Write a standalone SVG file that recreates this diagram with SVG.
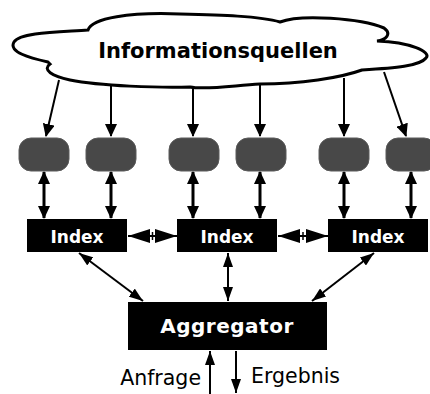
<svg xmlns="http://www.w3.org/2000/svg" width="430" height="394" viewBox="0 0 430 394">
<style>
.conn{stroke:#000;fill:none}
.gray{fill:#484848;stroke:#5a5a5a;stroke-width:1}
.box{fill:#000}
.wt{fill:#fff;font-family:"DejaVu Sans",sans-serif;font-weight:bold;text-anchor:middle}
.bt{fill:#000;font-family:"DejaVu Sans",sans-serif}
</style>
<defs>
<marker id="ah" markerUnits="userSpaceOnUse" markerWidth="13" markerHeight="12" refX="12" refY="6" orient="auto-start-reverse"><path d="M0,0 L13,6 L0,12 z" fill="#000"/></marker>
<marker id="am" markerUnits="userSpaceOnUse" markerWidth="14" markerHeight="10" refX="14" refY="5" orient="auto-start-reverse"><path d="M0,0 L14,5 L0,10 z" fill="#000"/></marker>
<marker id="ab" markerUnits="userSpaceOnUse" markerWidth="22" markerHeight="14" refX="22" refY="7" orient="auto-start-reverse"><path d="M0,0 L22,7 L0,14 z" fill="#000"/></marker>
</defs>
<g id="cloud">
<path d="M48,62 C30,58 8,52 14,42 C20,32 60,32 88,30 C92,18 130,12 180,14 C220,15 260,16 280,22 C300,14 360,18 384,28 C392,34 386,40 377,41 C410,42 432,52 426,58 C420,66 395,68 362,70 C340,78 300,84 260,84 C230,86 205,90 190,87 C160,88 100,86 70,80 C52,76 42,70 50,64 Z" fill="#fff" stroke="#000" stroke-width="3"/>
<text class="bt" x="218" y="58" font-size="21" font-weight="bold" text-anchor="middle">Informationsquellen</text>
</g>
<g id="sources">
<rect class="gray" x="19" y="138" width="50" height="33" rx="12"/>
<rect class="gray" x="86" y="138" width="50" height="33" rx="12"/>
<rect class="gray" x="169" y="138" width="50" height="33" rx="12"/>
<rect class="gray" x="236" y="138" width="50" height="33" rx="12"/>
<rect class="gray" x="319" y="138" width="50" height="33" rx="12"/>
<rect class="gray" x="386" y="138" width="50" height="33" rx="12"/>
</g>
<g id="index1"><rect class="box" x="27" y="219" width="100" height="33"/><text class="wt" x="77" y="242.5" font-size="17">Index</text></g>
<g id="index2"><rect class="box" x="177" y="219" width="100" height="33"/><text class="wt" x="227" y="242.5" font-size="17">Index</text></g>
<g id="index3"><rect class="box" x="328" y="219" width="100" height="33"/><text class="wt" x="378" y="242.5" font-size="17">Index</text></g>
<g id="aggregator"><rect class="box" x="128" y="302" width="199" height="48"/><text class="wt" x="227" y="333" font-size="20" letter-spacing="0.5">Aggregator</text></g>
<g id="connectors">
<line class="conn" stroke-width="2" x1="59" y1="80" x2="46" y2="136" marker-end="url(#ah)"/>
<line class="conn" stroke-width="2" x1="111" y1="86" x2="111" y2="136" marker-end="url(#ah)"/>
<line class="conn" stroke-width="2" x1="193" y1="88" x2="193" y2="136" marker-end="url(#ah)"/>
<line class="conn" stroke-width="2" x1="260" y1="84" x2="260" y2="136" marker-end="url(#ah)"/>
<line class="conn" stroke-width="2" x1="344" y1="78" x2="344" y2="136" marker-end="url(#ah)"/>
<line class="conn" stroke-width="2" x1="384" y1="72" x2="406" y2="136" marker-end="url(#ah)"/>
<line class="conn" stroke-width="3" x1="44" y1="172" x2="44" y2="218" marker-start="url(#ah)" marker-end="url(#ah)"/>
<line class="conn" stroke-width="3" x1="111" y1="172" x2="111" y2="218" marker-start="url(#ah)" marker-end="url(#ah)"/>
<line class="conn" stroke-width="3" x1="193" y1="172" x2="193" y2="218" marker-start="url(#ah)" marker-end="url(#ah)"/>
<line class="conn" stroke-width="3" x1="260" y1="172" x2="260" y2="218" marker-start="url(#ah)" marker-end="url(#ah)"/>
<line class="conn" stroke-width="3" x1="344" y1="172" x2="344" y2="218" marker-start="url(#ah)" marker-end="url(#ah)"/>
<line class="conn" stroke-width="3" x1="411" y1="172" x2="411" y2="218" marker-start="url(#ah)" marker-end="url(#ah)"/>
<line class="conn" stroke-width="2" x1="128" y1="236" x2="177" y2="236" marker-start="url(#ab)" marker-end="url(#ab)"/>
<line class="conn" stroke-width="1.5" x1="152.5" y1="232" x2="152.5" y2="240"/>
<line class="conn" stroke-width="2" x1="278" y1="236" x2="328" y2="236" marker-start="url(#ab)" marker-end="url(#ab)"/>
<line class="conn" stroke-width="1.5" x1="303" y1="232" x2="303" y2="240"/>
<line class="conn" stroke-width="2" x1="79" y1="253" x2="143" y2="301" marker-start="url(#am)" marker-end="url(#am)"/>
<line class="conn" stroke-width="2" x1="228" y1="253" x2="228" y2="301" marker-start="url(#am)" marker-end="url(#am)"/>
<line class="conn" stroke-width="2" x1="374" y1="253" x2="312" y2="301" marker-start="url(#am)" marker-end="url(#am)"/>
<line class="conn" stroke-width="2" x1="210" y1="394" x2="210" y2="351" marker-end="url(#am)"/>
<line class="conn" stroke-width="2" x1="236" y1="351" x2="236" y2="393" marker-end="url(#am)"/>
</g>
<text class="bt" x="201" y="385" font-size="20.5" text-anchor="end">Anfrage</text>
<text class="bt" x="251" y="383" font-size="20.5">Ergebnis</text>
</svg>
